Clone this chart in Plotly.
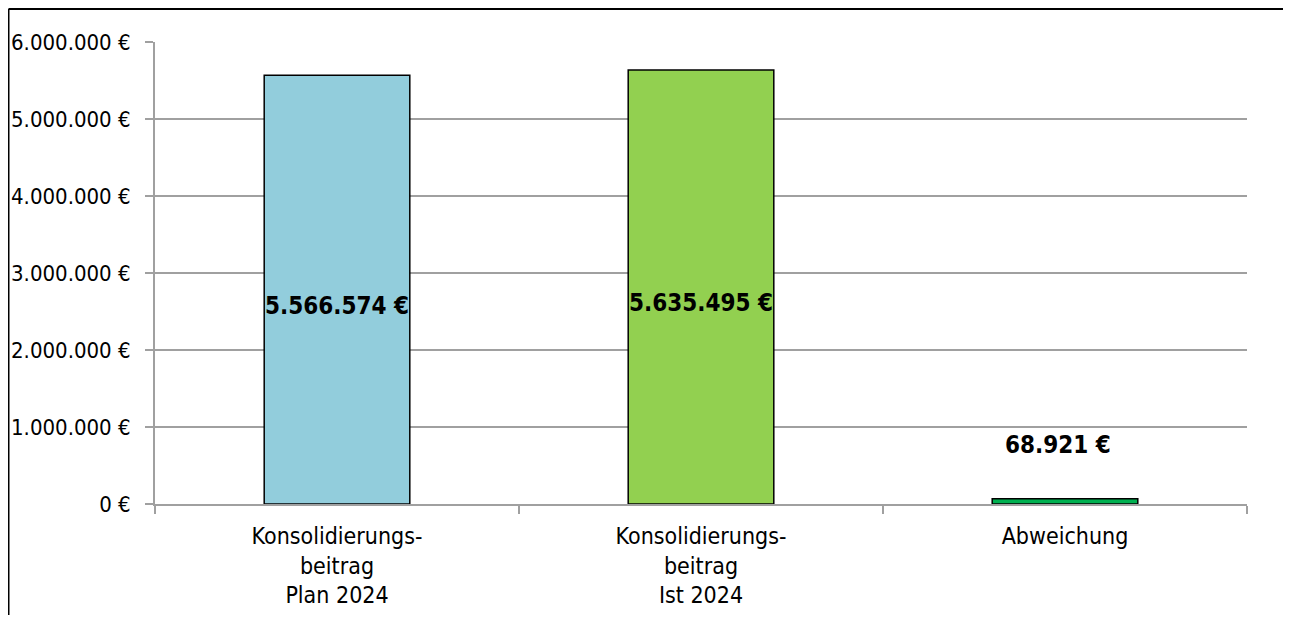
import plotly.graph_objects as go

categories = ["Konsolidierungs-<br>beitrag<br>Plan 2024", "Konsolidierungs-<br>beitrag<br>Ist 2024", "Abweichung"]
values = [5566574, 5635495, 68921]
value_labels = ["5.566.574 €", "5.635.495 €", "68.921 €"]
bar_colors = ["#92CDDC", "#92D050", "#00B050"]
y_tickvals = [0, 1000000, 2000000, 3000000, 4000000, 5000000, 6000000]
y_ticktext = ["0 €", "1.000.000 €", "2.000.000 €", "3.000.000 €", "4.000.000 €", "5.000.000 €", "6.000.000 €"]

FONT = "DejaVu Sans Condensed, Liberation Sans Narrow, Roboto, sans-serif"

W, H = 1283, 607
L, T, PW, PH = 147, 34, 1092, 462

fig = go.Figure()
fig.add_trace(go.Bar(
    x=categories, y=values,
    marker=dict(color=bar_colors, line=dict(color="black", width=1.5)),
    width=0.4, hoverinfo="skip",
))

for i, (c, v, t) in enumerate(zip(categories, values, value_labels)):
    if v > 1000000:
        fig.add_annotation(x=c, y=v / 2, text="<b>" + t + "</b>", showarrow=False,
                           yshift=-16, font=dict(family=FONT, size=24, color="black"))
    else:
        fig.add_annotation(x=c, y=v, text="<b>" + t + "</b>", showarrow=False,
                           yshift=54, xshift=-7, font=dict(family=FONT, size=24, color="black"))

# outer chart border (only top and left edges are visible in the window)
bx = (-L + 0.5) / PW
by = (PH + T - 1) / PH
fig.add_shape(type="line", xref="paper", yref="paper", x0=bx, x1=(W - L) / PW, y0=by, y1=by,
              line=dict(color="black", width=2))
fig.add_shape(type="line", xref="paper", yref="paper", x0=bx, x1=bx, y0=by, y1=-(H - T - PH) / PH,
              line=dict(color="black", width=2))

fig.update_layout(
    width=W, height=H, autosize=False,
    margin=dict(l=L, r=W - L - PW, t=T, b=H - T - PH, pad=0),
    paper_bgcolor="white", plot_bgcolor="white",
    showlegend=False,
    font=dict(family=FONT, size=22, color="black"),
    bargap=0.6,
)
fig.update_xaxes(
    type="category", tickson="boundaries", ticks="outside", ticklen=8,
    tickcolor="#a0a0a0", tickwidth=2, automargin=False,
    showline=True, linecolor="#a0a0a0", linewidth=2,
    showgrid=False, tickfont=dict(family=FONT, size=23, color="black"),
    ticklabelstandoff=10,
)
fig.update_yaxes(
    range=[0, 6000000], tickvals=y_tickvals, ticktext=y_ticktext,
    ticks="outside", ticklen=8, tickcolor="#a0a0a0", tickwidth=2, automargin=False,
    showline=True, linecolor="#a0a0a0", linewidth=2,
    showgrid=True, gridcolor="#a0a0a0", gridwidth=2,
    zeroline=False, ticklabelstandoff=10,
    tickfont=dict(family=FONT, size=22, color="black"),
)

fig.write_html("out.html")
